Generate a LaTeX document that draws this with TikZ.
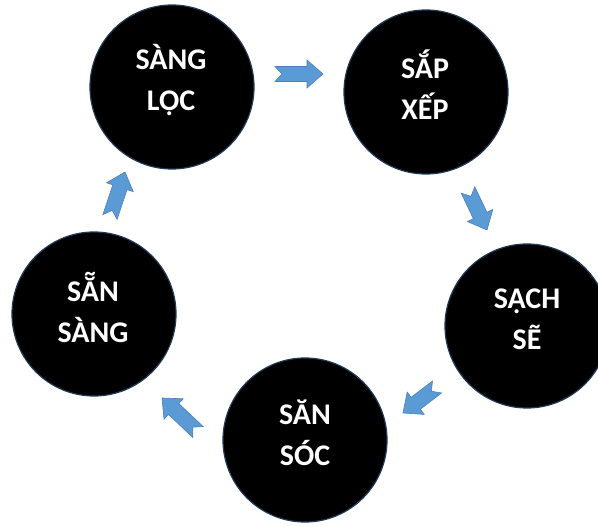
\documentclass[tikz,border=0pt]{standalone}
\usepackage{fontspec}
\setmainfont{Carlito}
\usetikzlibrary{calc}
\definecolor{arrfill}{HTML}{5B9BD5}
\definecolor{arredge}{HTML}{4A7EBB}
\definecolor{ringedge}{HTML}{1F3B5A}
\tikzset{
  stepcircle/.style={circle, fill=black, draw=ringedge, line width=1.2pt,
    minimum size=164pt, inner sep=0pt},
  steptext/.style={text=white, align=center, inner sep=0pt,
    font=\fontsize{30}{41}\selectfont\bfseries},
  arrowshape/.style={fill=arrfill, draw=arredge, line width=0.6pt, line join=miter}
}
\newcommand\blockarr[2]{%
  \filldraw[arrowshape] let \p1=($(#2)-(#1)$), \n1={atan2(\y1,\x1)},
      \n2={veclen(\x1,\y1)}, \n3={\n2-16} in
    ($(#1)+(\n1+90:7.5pt)$) -- ($(#1)+(\n1:\n3)+(\n1+90:7.5pt)$)
    -- ($(#1)+(\n1:\n3)+(\n1+90:14pt)$) -- (#2)
    -- ($(#1)+(\n1:\n3)+(\n1-90:14pt)$) -- ($(#1)+(\n1:\n3)+(\n1-90:7.5pt)$)
    -- ($(#1)+(\n1-90:7.5pt)$) -- ($(#1)+(\n1:7pt)$) -- cycle;
}
\begin{document}
\begin{tikzpicture}[x=1pt,y=-1pt]
\useasboundingbox (0,0) rectangle (598,526);
\clip (0,0) rectangle (598,526);
\node[stepcircle] (c1) at (172,87) {};
\node[stepcircle] (c2) at (426,92) {};
\node[stepcircle] (c3) at (527,326) {};
\node[stepcircle] (c4) at (305,440) {};
\node[stepcircle] (c5) at (94,314) {};
\node[steptext] (t1) at ($(c1)+(-1,-7)$) {SÀNG\\LỌC};
\node[steptext] (t2) at ($(c2)+(-1,-7)$) {SẮP\\XẾP};
\node[steptext] (t3) at ($(c3)+(0,-7)$) {SẠCH\\SẼ};
\node[steptext] (t4) at ($(c4)+(0,-7)$) {SĂN\\SÓC};
\node[steptext] (t5) at ($(c5)+(-1,-7)$) {SẴN\\SÀNG};
\coordinate (a1s) at (275,74);  \coordinate (a1e) at (323,74);
\coordinate (a2s) at (468,190); \coordinate (a2e) at (487,230);
\coordinate (a3s) at (437,387); \coordinate (a3e) at (403,413);
\coordinate (a4s) at (198,432); \coordinate (a4e) at (162,398);
\coordinate (a5s) at (110,217); \coordinate (a5e) at (125,172);
\blockarr{a1s}{a1e}
\blockarr{a2s}{a2e}
\blockarr{a3s}{a3e}
\blockarr{a4s}{a4e}
\blockarr{a5s}{a5e}
\end{tikzpicture}
\end{document}
